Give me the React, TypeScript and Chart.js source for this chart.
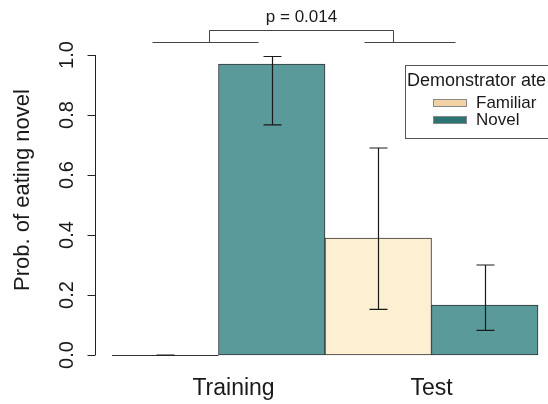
import React, { useEffect, useRef } from "react";
import { Chart, registerables } from "chart.js";

Chart.register(...registerables);

const categories = ["Training", "Test"];
const seriesNames = ["Familiar", "Novel"];
const familiarValues = [0, 0.39];
const familiarLower = [0, 0.152];
const familiarUpper = [0, 0.69];
const novelValues = [0.97, 0.166];
const novelLower = [0.767, 0.082];
const novelUpper = [0.995, 0.3];
const yTickValues = [0, 0.2, 0.4, 0.6, 0.8, 1.0];
const yTickLabels = ["0.0", "0.2", "0.4", "0.6", "0.8", "1.0"];
const yTitle = "Prob. of eating novel";
const legendTitle = "Demonstrator ate";
const pLabel = "p = 0.014";

const barFills = ["#FDEFD2", "#5A9A9B"];
const legendFills = ["#F2D2A2", "#2C7371"];
const FONT = "'Liberation Sans', Arial, sans-serif";

const lowers = [familiarLower, novelLower];
const uppers = [familiarUpper, novelUpper];

const overlay = {
  id: "overlay",
  afterDatasetsDraw(chart: any) {
    const ctx = chart.ctx;
    const y = chart.scales.y;
    const x = chart.scales.x;
    const area = chart.chartArea;
    ctx.save();
    chart.data.datasets.forEach((ds: any, di: number) => {
      const meta = chart.getDatasetMeta(di);
      meta.data.forEach((bar: any, i: number) => {
        const v = ds.data[i];
        if (v === 0) {
          ctx.strokeStyle = "#333";
          ctx.lineWidth = 1;
          ctx.beginPath();
          const y0 = Math.round(y.getPixelForValue(0)) + 0.5;
          ctx.moveTo(bar.x - bar.width / 2, y0);
          ctx.lineTo(bar.x + bar.width / 2, y0);
          ctx.stroke();
        }
        const lo = y.getPixelForValue(lowers[di][i]);
        const hi = y.getPixelForValue(uppers[di][i]);
        const cx = Math.round(bar.x) + 0.5;
        const cap = 9;
        ctx.strokeStyle = "#1a1a1a";
        ctx.lineWidth = 1.2;
        ctx.beginPath();
        ctx.moveTo(cx, lo);
        ctx.lineTo(cx, hi);
        ctx.moveTo(cx - cap, hi);
        ctx.lineTo(cx + cap, hi);
        ctx.moveTo(cx - cap, lo);
        ctx.lineTo(cx + cap, lo);
        ctx.stroke();
      });
    });

    // y axis (R style)
    const axX = area.left - 16.5;
    ctx.strokeStyle = "#222";
    ctx.lineWidth = 1;
    ctx.beginPath();
    ctx.moveTo(axX, y.getPixelForValue(yTickValues[0]));
    ctx.lineTo(axX, y.getPixelForValue(yTickValues[yTickValues.length - 1]));
    yTickValues.forEach((t) => {
      const py = Math.round(y.getPixelForValue(t)) + 0.5;
      ctx.moveTo(axX, py);
      ctx.lineTo(axX - 8, py);
    });
    ctx.stroke();
    ctx.fillStyle = "#1a1a1a";
    ctx.font = `20px ${FONT}`;
    ctx.textAlign = "center";
    ctx.textBaseline = "middle";
    yTickValues.forEach((t, i) => {
      const py = y.getPixelForValue(t);
      ctx.save();
      ctx.translate(67, py);
      ctx.rotate(-Math.PI / 2);
      ctx.fillText(yTickLabels[i], 0, 0);
      ctx.restore();
    });
    ctx.save();
    ctx.font = `22px ${FONT}`;
    ctx.translate(23, (area.top + area.bottom) / 2 - 15);
    ctx.rotate(-Math.PI / 2);
    ctx.fillText(yTitle, 0, 0);
    ctx.restore();

    // x labels
    ctx.font = `23px ${FONT}`;
    ctx.textBaseline = "alphabetic";
    const xOffsets = [15, 0];
    categories.forEach((c, i) => {
      ctx.fillText(c, x.getPixelForValue(i) + xOffsets[i], area.bottom + 40);
    });

    // significance bracket
    const c0 = x.getPixelForValue(0);
    const c1 = x.getPixelForValue(1);
    const lineY = area.top - 12.5;
    const topY = area.top - 24.5;
    const lv = Math.round(c0 - 10) + 0.5;
    const rv = Math.round(c1 - 39) + 0.5;
    ctx.strokeStyle = "#444";
    ctx.lineWidth = 1;
    ctx.beginPath();
    ctx.moveTo(c0 - 66, lineY);
    ctx.lineTo(c0 + 40, lineY);
    ctx.moveTo(c1 - 67, lineY);
    ctx.lineTo(c1 + 24, lineY);
    ctx.moveTo(lv, lineY);
    ctx.lineTo(lv, topY);
    ctx.lineTo(rv, topY);
    ctx.lineTo(rv, lineY);
    ctx.stroke();
    ctx.font = `17px ${FONT}`;
    ctx.fillStyle = "#1a1a1a";
    ctx.textBaseline = "middle";
    ctx.fillText(pLabel, (lv + rv) / 2, 17);

    // legend
    const lx = 405.5;
    const ly = 65.5;
    ctx.fillStyle = "#fff";
    ctx.fillRect(lx, ly, 160, 73);
    ctx.strokeStyle = "#555";
    ctx.strokeRect(lx, ly, 160, 73);
    ctx.fillStyle = "#1a1a1a";
    ctx.textAlign = "left";
    ctx.font = `18px ${FONT}`;
    ctx.fillText(legendTitle, 407, 81);
    ctx.font = `17px ${FONT}`;
    seriesNames.forEach((n, i) => {
      const sy = 99 + i * 17;
      ctx.fillStyle = legendFills[i];
      ctx.fillRect(433, sy, 34, 8);
      ctx.strokeStyle = "#888";
      ctx.strokeRect(433.5, sy + 0.5, 33, 7);
      ctx.fillStyle = "#1a1a1a";
      ctx.fillText(n, 476, sy + 4);
    });
    ctx.restore();
  },
};

export default function App() {
  const ref = useRef<HTMLCanvasElement>(null);
  useEffect(() => {
    document.body.style.margin = "0";
    const chart = new Chart(ref.current as HTMLCanvasElement, {
      type: "bar",
      data: {
        labels: categories,
        datasets: [
          {
            label: seriesNames[0],
            data: familiarValues,
            backgroundColor: barFills[0],
            borderColor: "#333",
            borderWidth: 1,
            borderSkipped: false,
            clip: false,
          } as any,
          {
            label: seriesNames[1],
            data: novelValues,
            backgroundColor: barFills[1],
            borderColor: "#333",
            borderWidth: 1,
            borderSkipped: false,
            clip: false,
          } as any,
        ],
      },
      options: {
        animation: false,
        responsive: false,
        devicePixelRatio: 1,
        layout: { padding: { left: 112, right: 10, top: 55, bottom: 49 } },
        datasets: { bar: { categoryPercentage: 1, barPercentage: 1 } },
        scales: {
          x: { display: false },
          y: { display: false, min: 0, max: 1 },
        },
        plugins: { legend: { display: false }, tooltip: { enabled: false } },
      },
      plugins: [overlay],
    });
    return () => chart.destroy();
  }, []);
  return (
    <div style={{ position: "fixed", left: 0, top: 0, width: 548, height: 404, background: "#fff" }}>
      <canvas ref={ref} width={548} height={404} />
    </div>
  );
}
